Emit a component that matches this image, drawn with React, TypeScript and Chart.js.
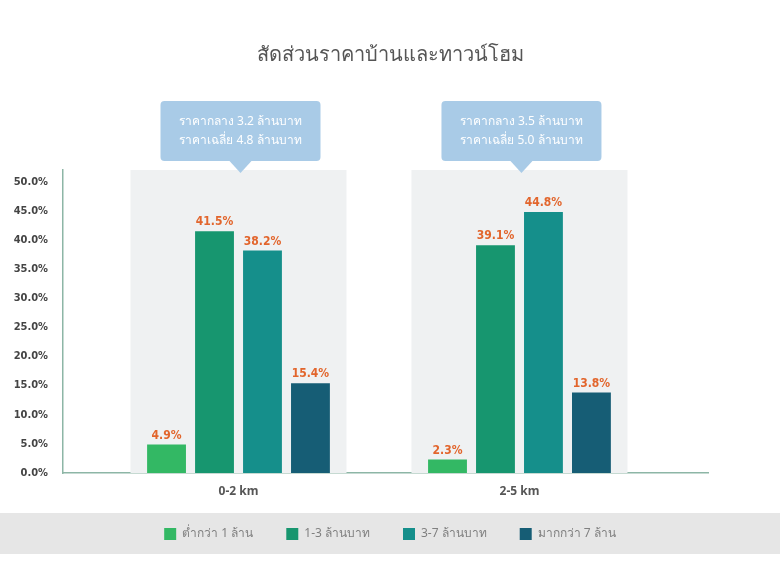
import { useEffect, useRef } from 'react';
import { Chart, registerables } from 'chart.js';

Chart.register(...registerables);

const TITLE = 'สัดส่วนราคาบ้านและทาวน์โฮม';
const CATEGORIES = ['0-2 km', '2-5 km'];
const SERIES = ['ต่ำกว่า 1 ล้าน', '1-3 ล้านบาท', '3-7 ล้านบาท', 'มากกว่า 7 ล้าน'];
const UNDER_1M = [4.9, 2.3];
const FROM_1_TO_3M = [41.5, 39.1];
const FROM_3_TO_7M = [38.2, 44.8];
const OVER_7M = [15.4, 13.8];
const MEDIAN_NOTES = ['ราคากลาง 3.2 ล้านบาท', 'ราคากลาง 3.5 ล้านบาท'];
const MEAN_NOTES = ['ราคาเฉลี่ย 4.8 ล้านบาท', 'ราคาเฉลี่ย 5.0 ล้านบาท'];

const COLORS = ['#33b864', '#17966f', '#158f8b', '#165d75'];
const THAI_FONT = "'Noto Sans', 'DejaVu Sans', sans-serif";
const NARROW_FONT = "'Liberation Sans Narrow', 'DejaVu Sans Condensed', 'Roboto', sans-serif";

// gray panels behind each group, legend band, callouts and value labels
const decorations = {
  id: 'decorations',
  beforeDraw(chart: any) {
    const { ctx, legend, width } = chart;
    ctx.save();
    ctx.fillStyle = '#e6e6e6';
    ctx.fillRect(0, legend.bottom - 37, width, 41);
    ctx.restore();
  },
  beforeDatasetsDraw(chart: any) {
    const { ctx, chartArea, scales } = chart;
    ctx.save();
    ctx.fillStyle = '#eff1f2';
    CATEGORIES.forEach((_, i) => {
      const cx = scales.x.getPixelForValue(i);
      ctx.fillRect(cx - 108, chartArea.top, 216, chartArea.bottom - chartArea.top);
    });
    ctx.restore();
  },
  afterDatasetsDraw(chart: any) {
    const { ctx } = chart;
    ctx.save();
    ctx.fillStyle = '#e2652c';
    ctx.font = `bold 12px ${NARROW_FONT}`;
    ctx.textAlign = 'center';
    ctx.textBaseline = 'bottom';
    chart.data.datasets.forEach((ds: any, di: number) => {
      const meta = chart.getDatasetMeta(di);
      meta.data.forEach((el: any, i: number) => {
        ctx.fillText(`${ds.data[i].y.toFixed(1)}%`, el.x, el.y - 3);
      });
    });
    ctx.restore();
  },
  afterDraw(chart: any) {
    const { ctx, chartArea, scales } = chart;
    ctx.save();
    CATEGORIES.forEach((_, i) => {
      const cx = scales.x.getPixelForValue(i) + 2;
      const top = chartArea.top - 69;
      const w = 160;
      const h = 60;
      ctx.fillStyle = '#a9cbe7';
      ctx.beginPath();
      ctx.roundRect(cx - w / 2, top, w, h, 4);
      ctx.fill();
      ctx.beginPath();
      ctx.moveTo(cx - 11, top + h);
      ctx.lineTo(cx + 11, top + h);
      ctx.lineTo(cx, top + h + 12);
      ctx.closePath();
      ctx.fill();
      ctx.fillStyle = '#ffffff';
      ctx.font = `12px ${THAI_FONT}`;
      ctx.textAlign = 'center';
      ctx.textBaseline = 'middle';
      ctx.fillText(MEDIAN_NOTES[i], cx, top + 21);
      ctx.fillText(MEAN_NOTES[i], cx, top + 40);
    });
    ctx.restore();
  },
};

export default function App() {
  const canvasRef = useRef<HTMLCanvasElement>(null);

  useEffect(() => {
    if (!canvasRef.current) return;
    const seriesValues = [UNDER_1M, FROM_1_TO_3M, FROM_3_TO_7M, OVER_7M];

    const chart = new Chart(canvasRef.current, {
      type: 'bar',
      data: {
        datasets: SERIES.map((label, s) => ({
          label,
          data: seriesValues[s].map((v, i) => ({ x: i, y: v })),
          backgroundColor: COLORS[s],
          categoryPercentage: 0.683,
          barPercentage: 0.81,
        })),
      },
      options: {
        animation: false,
        responsive: true,
        maintainAspectRatio: false,
        layout: { padding: { top: 0, right: 0, bottom: 12, left: 0 } },
        plugins: {
          title: {
            display: true,
            text: TITLE,
            color: '#555555',
            font: { family: THAI_FONT, size: 20, weight: 'normal' },
            padding: { top: 43, bottom: 103 },
          },
          legend: {
            position: 'bottom',
            labels: {
              boxWidth: 12,
              boxHeight: 12,
              padding: 33,
              color: '#808080',
              font: { family: THAI_FONT, size: 12 },
            },
          },
          tooltip: { enabled: false },
        },
        scales: {
          x: {
            type: 'linear',
            min: -0.6246,
            max: 1.671,
            offset: false,
            grid: { display: false, drawTicks: false },
            border: { color: '#8db6a6', width: 1.5 },
            afterBuildTicks: (scale: any) => {
              scale.ticks = CATEGORIES.map((_, i) => ({ value: i }));
            },
            afterFit: (scale: any) => {
              scale.height = 22;
            },
            ticks: {
              padding: 11,
              color: '#555555',
              font: { family: THAI_FONT, size: 12, weight: 'bold' },
              callback: (v: any) => CATEGORIES[v] ?? '',
            },
          },
          y: {
            min: 0,
            max: 52,
            grid: { display: false, drawTicks: false },
            border: { color: '#8db6a6', width: 1.5 },
            afterFit: (scale: any) => {
              scale.width = 63;
            },
            ticks: {
              stepSize: 5,
              includeBounds: false,
              padding: 15,
              color: '#444444',
              font: { family: NARROW_FONT, size: 11, weight: 'bold' },
              callback: (v: any) => `${Number(v).toFixed(1)}%`,
            },
          },
          yRight: {
            position: 'right',
            display: true,
            grid: { display: false },
            border: { display: false },
            ticks: { display: false },
            afterFit: (scale: any) => {
              scale.width = 72;
            },
          },
        },
      } as any,
      plugins: [decorations],
    });

    return () => chart.destroy();
  }, []);

  return (
    <div style={{ position: 'fixed', left: 0, top: 0, width: 780, height: 562, background: '#ffffff' }}>
      <canvas ref={canvasRef} />
    </div>
  );
}
